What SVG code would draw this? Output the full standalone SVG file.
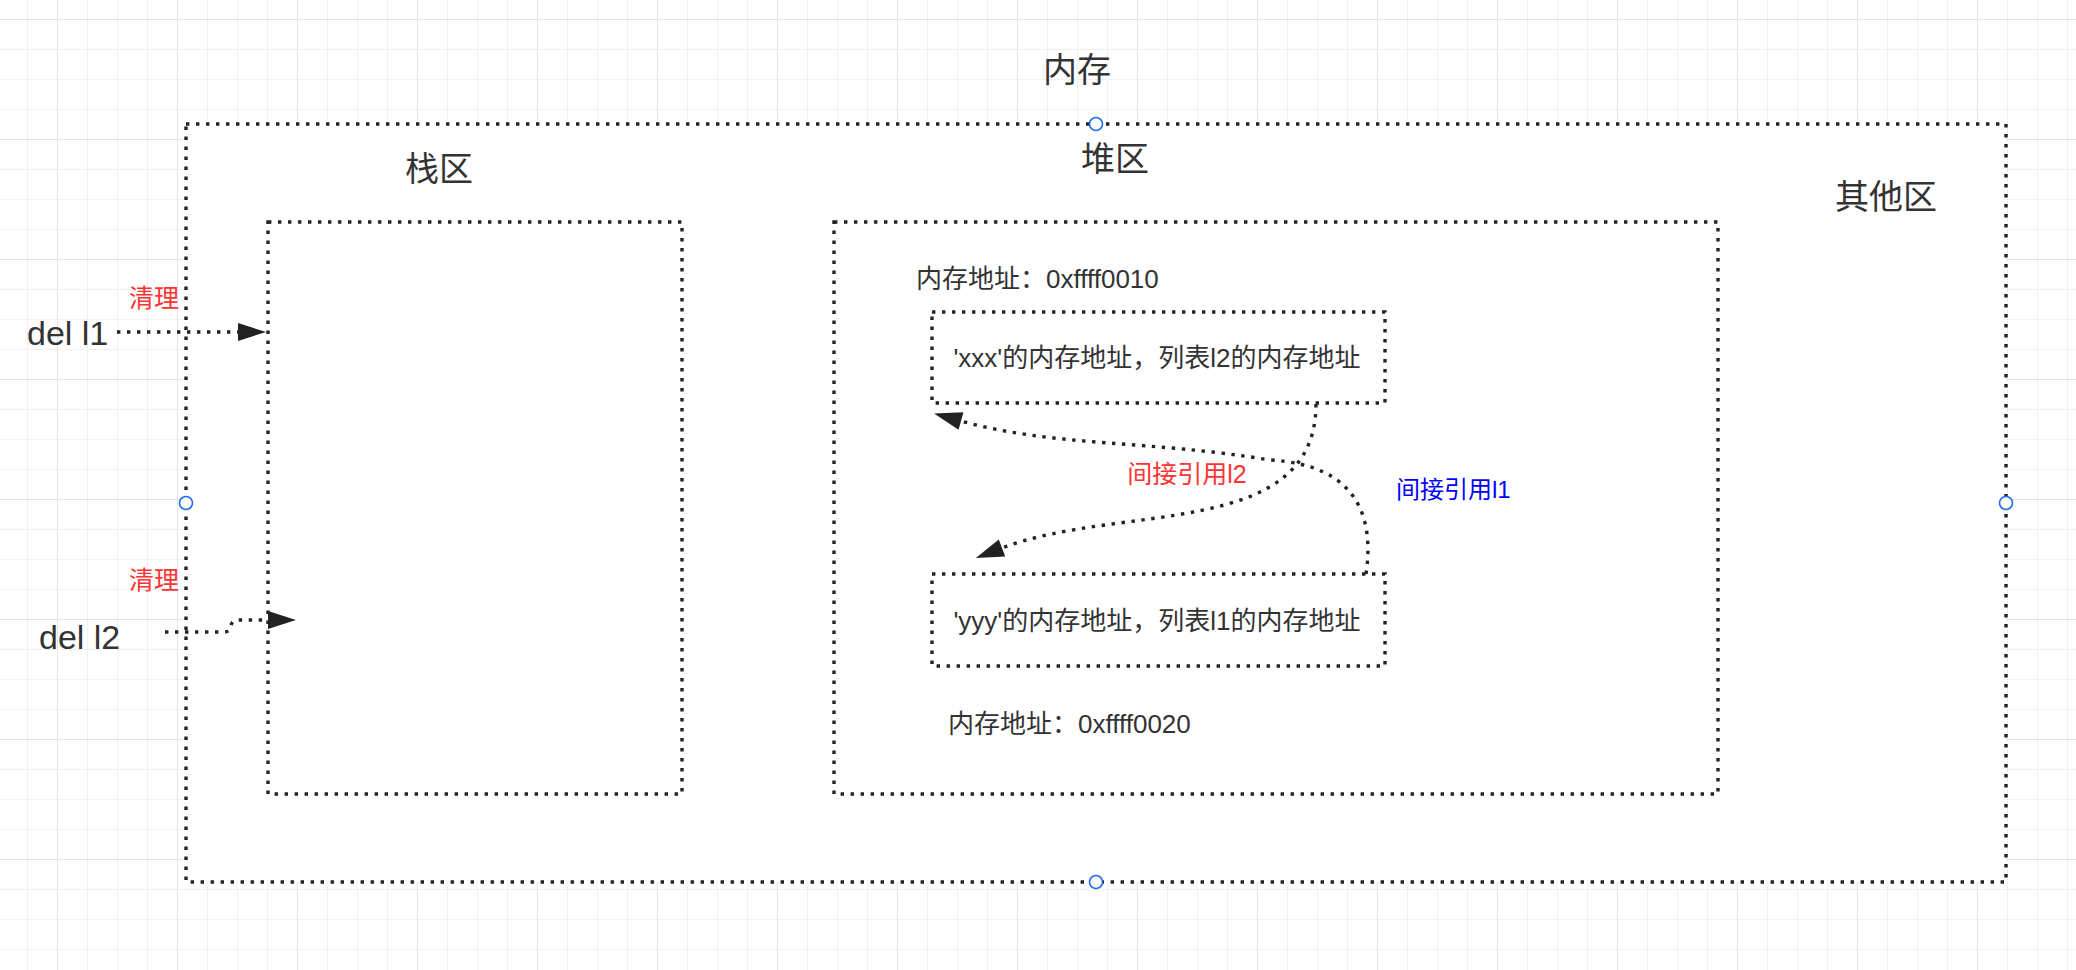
<svg xmlns="http://www.w3.org/2000/svg" width="2076" height="970" viewBox="0 0 2076 970">
<style>
.box{fill:#ffffff;stroke:#222222;stroke-width:3.4;stroke-dasharray:3.4 6.6;}
.edge{fill:none;stroke:#222222;stroke-width:3.4;stroke-dasharray:3.4 6.6;}
.t{font-family:'Liberation Sans','Noto Sans CJK SC',sans-serif;fill:#333333;dominant-baseline:central;}
.big{font-size:34px;}
.mid{font-size:26px;}
.red{fill:#FF3333;font-size:25px;}
.blue{fill:#0000FF;font-size:24px;}
.cp{fill:#ffffff;stroke:#1C6CE8;stroke-width:1.6;}
</style>
<defs>
<pattern id="grid" patternUnits="userSpaceOnUse" x="57" y="19" width="120" height="120">
<rect width="120" height="120" fill="#ffffff"/>
<g fill="#f1f1f1">
<rect x="30" y="0" width="1" height="120"/>
<rect x="60" y="0" width="1" height="120"/>
<rect x="90" y="0" width="1" height="120"/>
<rect x="0" y="30" width="120" height="1"/>
<rect x="0" y="60" width="120" height="1"/>
<rect x="0" y="90" width="120" height="1"/>
</g>
<g fill="#e4e4e4">
<rect x="0" y="0" width="1" height="120"/>
<rect x="0" y="0" width="120" height="1"/>
</g>
</pattern>
<marker id="arrow" markerUnits="userSpaceOnUse" viewBox="0 0 28 18" markerWidth="28" markerHeight="18" refX="0" refY="9" orient="auto" overflow="visible">
<path d="M0,0 L28,9 L0,18 Z" fill="#222222"/>
</marker>
</defs>
<rect width="2076" height="970" fill="url(#grid)"/>

<g id="memory">
<rect class="box" x="186" y="124" width="1820" height="758"/>
<text class="t big" x="1077" y="70" text-anchor="middle">内存</text>
<circle class="cp" cx="1096" cy="124" r="6.5"/>
<circle class="cp" cx="186" cy="503" r="6.5"/>
<circle class="cp" cx="2006" cy="503" r="6.5"/>
<circle class="cp" cx="1096" cy="882" r="6.5"/>
</g>

<g id="stack">
<rect class="box" x="268" y="222" width="414" height="572"/>
<text class="t big" x="439" y="169" text-anchor="middle">栈区</text>
</g>

<g id="heap">
<rect class="box" x="834" y="222" width="884" height="572"/>
<text class="t big" x="1115" y="159" text-anchor="middle">堆区</text>
<text class="t mid" x="916" y="279">内存地址：0xffff0010</text>
<text class="t mid" x="948" y="724">内存地址：0xffff0020</text>
</g>

<g id="other">
<text class="t big" x="1886" y="197" text-anchor="middle">其他区</text>
</g>

<g id="obj-xxx">
<rect class="box" x="932" y="312" width="453" height="91"/>
<text class="t mid" x="1157" y="358" text-anchor="middle">'xxx'的内存地址，列表l2的内存地址</text>
</g>

<g id="obj-yyy">
<rect class="box" x="932" y="574" width="453" height="92"/>
<text class="t mid" x="1157" y="621" text-anchor="middle">'yyy'的内存地址，列表l1的内存地址</text>
</g>

<g id="del-l1">
<text class="t big" x="27" y="333">del l1</text>
</g>

<g id="del-l2">
<text class="t big" x="39" y="637">del l2</text>
</g>

<g id="connectors">
<path class="edge" d="M117,332 H238" marker-end="url(#arrow)"/>
<text class="t red" x="154" y="298" text-anchor="middle">清理</text>
<path class="edge" d="M165,632 H224 Q229,632 230.5,628 L231.5,624 Q233,620 238,620 H268" marker-end="url(#arrow)"/>
<text class="t red" x="154" y="580" text-anchor="middle">清理</text>
<path class="edge" d="M1316,404 C1316,540 1119,503 1002,548" marker-end="url(#arrow)"/>
<text class="t red" x="1187" y="474" text-anchor="middle">间接引用l2</text>
<path class="edge" d="M1366,574 C1374,520 1360,465 1270,460 C1150,440 1054,447 961,421" marker-end="url(#arrow)"/>
<text class="t blue" x="1396" y="489">间接引用l1</text>
</g>
</svg>
